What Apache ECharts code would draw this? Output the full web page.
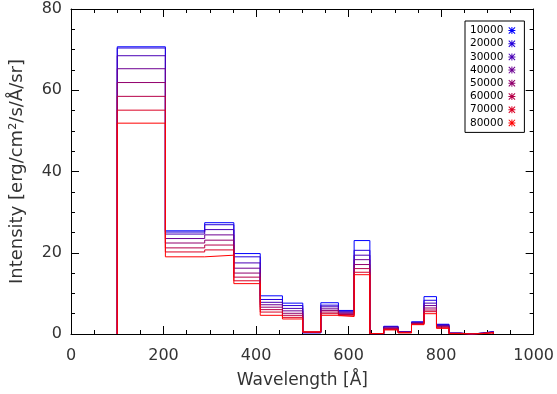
<!DOCTYPE html>
<html>
<head>
<meta charset="utf-8">
<script src="https://cdn.jsdelivr.net/npm/echarts@6/dist/echarts.min.js"></script>
<style>
html, body { margin: 0; padding: 0; background: #fff; }
#chart { width: 557px; height: 394px; }
</style>
</head>
<body>
<div id="chart"></div>
<script>
// bin edges in Angstrom (20 bins)
let edges = [100, 204, 289, 352, 409, 457, 501, 540, 578, 612, 646, 676, 707, 736, 763, 790, 817, 841, 866, 889, 913]

let temps = ['10000', '20000', '30000', '40000', '50000', '60000', '70000', '80000']

// intensity per bin, one array per temperature
let flux10000 = [70.7, 25.4, 27.4, 19.8, 9.4, 7.6, 0.3, 7.7, 5.8, 23.0, 0.1, 1.9, 0.6, 3.0, 9.2, 2.4, 0.2, 0.0, 0.2, 0.6]
let flux20000 = [70.4, 25.1, 26.9, 19.0, 8.5, 7.0, 0.3, 7.1, 5.6, 20.6, 0.1, 1.8, 0.6, 2.9, 8.3, 2.3, 0.2, 0.0, 0.2, 0.6]
let flux30000 = [68.5, 24.6, 25.7, 17.5, 7.8, 6.3, 0.4, 6.7, 5.4, 19.4, 0.1, 1.7, 0.5, 2.8, 7.6, 2.1, 0.2, 0.0, 0.2, 0.5]
let flux40000 = [65.3, 23.5, 24.4, 16.2, 7.2, 5.7, 0.4, 6.2, 5.2, 18.3, 0.1, 1.5, 0.5, 2.7, 7.0, 2.0, 0.2, 0.0, 0.2, 0.5]
let flux50000 = [61.9, 22.4, 23.1, 15.0, 6.6, 5.1, 0.4, 5.8, 5.0, 17.1, 0.1, 1.4, 0.4, 2.6, 6.4, 1.8, 0.2, 0.0, 0.2, 0.4]
let flux60000 = [58.5, 21.2, 21.9, 14.0, 6.0, 4.6, 0.5, 5.4, 4.8, 16.1, 0.1, 1.3, 0.4, 2.5, 5.9, 1.7, 0.1, 0.0, 0.1, 0.4]
let flux70000 = [55.1, 20.2, 20.7, 13.1, 5.4, 4.1, 0.5, 5.0, 4.5, 15.2, 0.1, 1.1, 0.3, 2.4, 5.5, 1.5, 0.1, 0.0, 0.1, 0.3]
let flux80000 = [51.9, 19.0, 19.4, 12.4, 4.6, 3.7, 0.5, 4.6, 4.3, 14.6, 0.1, 1.0, 0.3, 2.3, 5.0, 1.4, 0.1, 0.0, 0.1, 0.3]

let fluxes = [flux10000, flux20000, flux30000, flux40000, flux50000, flux60000, flux70000, flux80000]
let colors = ['#0000ff', '#2400db', '#4900b6', '#6d0092', '#92006d', '#b60049', '#db0024', '#ff0000']

// asterisk marker like IDL psym=2
let star = 'path://M4.3 0h1.4v10h-1.4z M0 4.3h10v1.4h-10z M1 0L10 9L9 10L0 1z M9 0L10 1L1 10L0 9z'

let font = 'DejaVu Sans'
let textColor = '#333'

// turn bins into a histogram outline
function stepData(vals) {
	let pts = [[edges[0], 0]]
	for (let i = 0; i < vals.length; i++) {
		pts.push([edges[i], vals[i]])
		pts.push([edges[i + 1], vals[i]])
	}
	pts.push([edges[edges.length - 1], 0])
	return pts
}

// ticks point inward on all four sides, onZero off so the frame stays a box
let tickStyle = { show: true, inside: true, length: 8, lineStyle: { color: '#000', width: 1 } }
let minorStyle = { show: true, splitNumber: 4, length: 4, lineStyle: { color: '#000', width: 1 } }
let lineStyle = { show: true, onZero: false, lineStyle: { color: '#000', width: 1 } }

let myChart = echarts.init(document.getElementById('chart'), null, { renderer: 'canvas' })

let option = {
	animation: false,
	backgroundColor: '#fff',
	grid: { left: 71, right: 22, top: 9, bottom: 57 },
	legend: {
		orient: 'vertical',
		left: 465,
		top: 21,
		align: 'right',
		padding: [4, 9, 4, 5],
		itemGap: 2.2,
		itemWidth: 7,
		itemHeight: 7,
		icon: star,
		itemStyle: { borderWidth: 0 },
		borderColor: '#000',
		borderWidth: 1,
		backgroundColor: '#fff',
		textStyle: { fontFamily: font, fontSize: 10.5, color: '#000', lineHeight: 11 },
		data: temps
	},
	xAxis: [{
		type: 'value',
		min: 0,
		max: 1000,
		interval: 200,
		name: 'Wavelength [Å]',
		nameLocation: 'middle',
		nameGap: 38,
		nameTextStyle: { fontFamily: font, fontSize: 17, color: textColor },
		axisLine: lineStyle,
		axisTick: tickStyle,
		minorTick: minorStyle,
		splitLine: { show: false },
		axisLabel: {
			fontFamily: font, fontSize: 16, color: textColor, margin: 14,
			formatter: function (v) { return String(v) }
		}
	}, {
		type: 'value',
		position: 'top',
		min: 0,
		max: 1000,
		interval: 200,
		axisLine: lineStyle,
		axisTick: tickStyle,
		minorTick: minorStyle,
		splitLine: { show: false },
		axisLabel: { show: false }
	}],
	yAxis: [{
		type: 'value',
		min: 0,
		max: 80,
		interval: 20,
		name: 'Intensity [erg/cm²/s/Å/sr]',
		nameLocation: 'middle',
		nameGap: 45,
		nameTextStyle: { fontFamily: font, fontSize: 18, color: textColor },
		axisLine: lineStyle,
		axisTick: tickStyle,
		minorTick: minorStyle,
		splitLine: { show: false },
		axisLabel: { fontFamily: font, fontSize: 16, color: textColor, margin: 9 }
	}, {
		type: 'value',
		position: 'right',
		min: 0,
		max: 80,
		interval: 20,
		axisLine: lineStyle,
		axisTick: tickStyle,
		minorTick: minorStyle,
		splitLine: { show: false },
		axisLabel: { show: false }
	}],
	series: temps.map(function (t, i) {
		return {
			name: t,
			type: 'line',
			xAxisIndex: 0,
			yAxisIndex: 0,
			showSymbol: false,
			symbol: 'none',
			silent: true,
			color: colors[i],
			lineStyle: { color: colors[i], width: 1 },
			data: stepData(fluxes[i])
		}
	})
}

myChart.setOption(option)
</script>
</body>
</html>
